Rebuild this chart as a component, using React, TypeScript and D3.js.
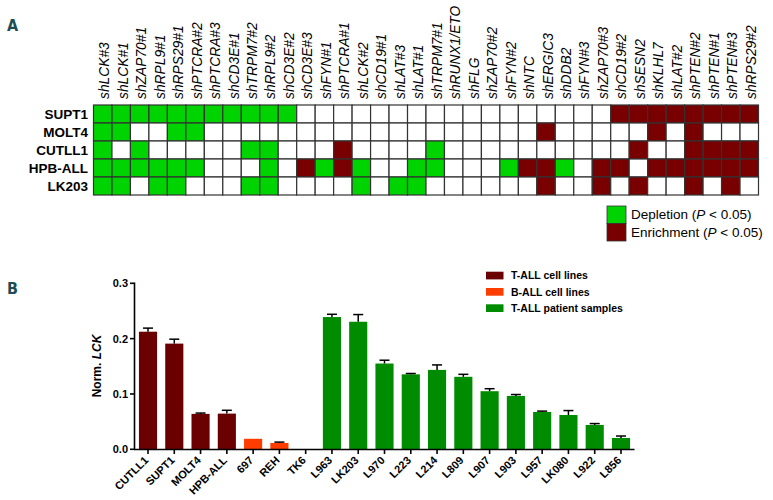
import React from 'react'
import { scaleBand, scaleLinear, scaleOrdinal } from 'd3'

// panel A: shRNA screen hits
const genes = [
  'shLCK#3', 'shLCK#1', 'shZAP70#1', 'shRPL9#1', 'shRPS29#1', 'shPTCRA#2', 'shPTCRA#3', 'shCD3E#1',
  'shTRPM7#2', 'shRPL9#2', 'shCD3E#2', 'shCD3E#3', 'shFYN#1', 'shPTCRA#1', 'shLCK#2', 'shCD19#1',
  'shLAT#3', 'shLAT#1', 'shTRPM7#1', 'shRUNX1/ETO', 'shFLG', 'shZAP70#2', 'shFYN#2', 'shNTC',
  'shERGIC3', 'shDDB2', 'shFYN#3', 'shZAP70#3', 'shCD19#2', 'shSESN2', 'shKLHL7', 'shLAT#2',
  'shPTEN#2', 'shPTEN#1', 'shPTEN#3', 'shRPS29#2',
]
const cellLines = ['SUPT1', 'MOLT4', 'CUTLL1', 'HPB-ALL', 'LK203']
// G = depletion, R = enrichment, . = not significant
const hits = [
  'GGGGGGGGGGG.................RRRRRRRR',
  'GG..GG..................R.....R.R...',
  'G.G.....GG...R....G..........R..RRRR',
  'GGGGGG...G.RGRG..GG...GRRG.RR.RRRRRR',
  'GG.GG...GG....G.GG......R..R.R..R.R.',
]

// panel B: LCK expression
const samples = ['CUTLL1', 'SUPT1', 'MOLT4', 'HPB-ALL', '697', 'REH', 'TK6', 'L963', 'LK203', 'L970',
  'L223', 'L214', 'L809', 'L907', 'L903', 'L957', 'LK080', 'L922', 'L856']
const sampleGroups = ['T', 'T', 'T', 'T', 'B', 'B', 'B', 'P', 'P', 'P', 'P', 'P', 'P', 'P', 'P', 'P', 'P', 'P', 'P']
const lckValues = [0.2125, 0.191, 0.064, 0.0645, 0.019, 0.0115, 0, 0.239, 0.2305, 0.155, 0.1355, 0.1435,
  0.131, 0.105, 0.0965, 0.0675, 0.062, 0.044, 0.0205]
const lckErrors = [0.0065, 0.008, 0.0015, 0.006, 0, 0.0015, 0, 0.005, 0.013, 0.006, 0.0015, 0.009,
  0.0045, 0.0045, 0.0025, 0.0015, 0.008, 0.0025, 0.0035]
const groupKeys = ['T', 'B', 'P']
const groupLabels = ['T-ALL cell lines', 'B-ALL cell lines', 'T-ALL patient samples']
const yTicks = [0, 0.1, 0.2, 0.3]

const FONT = '"Liberation Sans", Arial, sans-serif'
const GREEN = '#00d400'
const RED = '#780000'

const App = () => {
  // heatmap scales
  const xCell = scaleBand().domain(genes).range([93.5, 758.5])
  const yCell = scaleBand().domain(cellLines).range([105, 195])
  const hitColour = (c: string) => (c === 'G' ? GREEN : c === 'R' ? RED : '#ffffff')

  // bar chart scales
  const x = scaleBand().domain(samples).range([135, 634]).paddingInner(0.31).paddingOuter(0.15)
  const y = scaleLinear().domain([0, 0.3]).range([449.3, 283.3])
  const groupColour = scaleOrdinal<string, string>().domain(groupKeys).range(['#6b0000', '#ff3d00', '#008c00'])

  return (
    <svg width={773} height={500} style={{ position: 'absolute', left: 0, top: 0 }} fontFamily={FONT}>
      <rect width={773} height={500} fill="#fff" />

      {/* panel letters */}
      <text x={7} y={31} fontSize={16} fontWeight="bold" fill="#1d4d55" fontFamily='"Liberation Sans Narrow", "DejaVu Sans Condensed", sans-serif'>A</text>
      <text x={7} y={293.5} fontSize={16} fontWeight="bold" fill="#1d4d55" fontFamily='"Liberation Sans Narrow", "DejaVu Sans Condensed", sans-serif'>B</text>

      {/* gene labels */}
      {genes.map(g => (
        <text key={g} transform={`translate(${xCell(g)! + xCell.bandwidth() / 2 + 1.5},99) rotate(-90)`}
          dy="0.36em" fontSize={13.8} fontStyle="italic">{g}</text>
      ))}

      {/* cell line labels */}
      {cellLines.map(c => (
        <text key={c} x={88} y={yCell(c)! + yCell.bandwidth() / 2} dy="0.36em" textAnchor="end"
          fontSize={13.5} fontWeight="bold">{c}</text>
      ))}

      {/* heatmap cells */}
      {cellLines.map((c, i) => genes.map((g, j) => (
        <rect key={c + g} x={xCell(g)} y={yCell(c)} width={xCell.bandwidth()} height={yCell.bandwidth()}
          fill={hitColour(hits[i][j])} stroke="#333" strokeWidth={1.2} />
      )))}

      {/* heatmap legend */}
      <rect x={607} y={206} width={19} height={17.5} fill={GREEN} stroke="#333" strokeWidth={0.8} />
      <rect x={607} y={223.5} width={19} height={17.5} fill={RED} stroke="#333" strokeWidth={0.8} />
      <text x={631} y={214.5} dy="0.36em" fontSize={13.5}>Depletion (<tspan fontStyle="italic">P</tspan> &lt; 0.05)</text>
      <text x={631} y={232} dy="0.36em" fontSize={13.5}>Enrichment (<tspan fontStyle="italic">P</tspan> &lt; 0.05)</text>

      {/* bars */}
      {samples.map((s, i) => (
        <rect key={s} x={x(s)} y={y(lckValues[i])} width={x.bandwidth()} height={y(0) - y(lckValues[i])}
          fill={groupColour(sampleGroups[i])} />
      ))}

      {/* error bars */}
      {samples.map((s, i) => {
        if (!lckErrors[i]) return null
        const cx = x(s)! + x.bandwidth() / 2
        return (
          <g key={s} stroke="#000" strokeWidth={1.5}>
            <line x1={cx} x2={cx} y1={y(lckValues[i])} y2={y(lckValues[i] + lckErrors[i])} />
            <line x1={cx - 5} x2={cx + 5} y1={y(lckValues[i] + lckErrors[i])} y2={y(lckValues[i] + lckErrors[i])} />
          </g>
        )
      })}

      {/* y axis */}
      <line x1={134.5} x2={134.5} y1={282.5} y2={450} stroke="#000" strokeWidth={1.6} />
      {yTicks.map(t => (
        <g key={t}>
          <line x1={130} x2={134.5} y1={y(t)} y2={y(t)} stroke="#000" strokeWidth={1.6} />
          <text x={128} y={y(t)} dy="0.36em" textAnchor="end" fontSize={11} fontWeight="bold">{t.toFixed(1)}</text>
        </g>
      ))}
      <text transform="translate(101,366) rotate(-90)" textAnchor="middle" fontSize={12} fontWeight="bold">
        Norm. <tspan fontStyle="italic">LCK</tspan>
      </text>

      {/* x axis */}
      <line x1={134} x2={634.5} y1={449.5} y2={449.5} stroke="#000" strokeWidth={1.6} />
      {samples.map(s => {
        const cx = x(s)! + x.bandwidth() / 2
        return (
          <g key={s}>
            <line x1={cx} x2={cx} y1={449.5} y2={454} stroke="#000" strokeWidth={1.6} />
            <text transform={`translate(${cx + 1},461) rotate(-45)`} textAnchor="end" fontSize={11} fontWeight="bold">{s}</text>
          </g>
        )
      })}

      {/* bar legend */}
      {groupKeys.map((k, i) => (
        <g key={k}>
          <rect x={486} y={271.7 + i * 16.3} width={17.5} height={7.7} fill={groupColour(k)} />
          <text x={511} y={275.5 + i * 16.3} dy="0.36em" fontSize={10.5} fontWeight="bold">{groupLabels[i]}</text>
        </g>
      ))}
    </svg>
  )
}

export default App
